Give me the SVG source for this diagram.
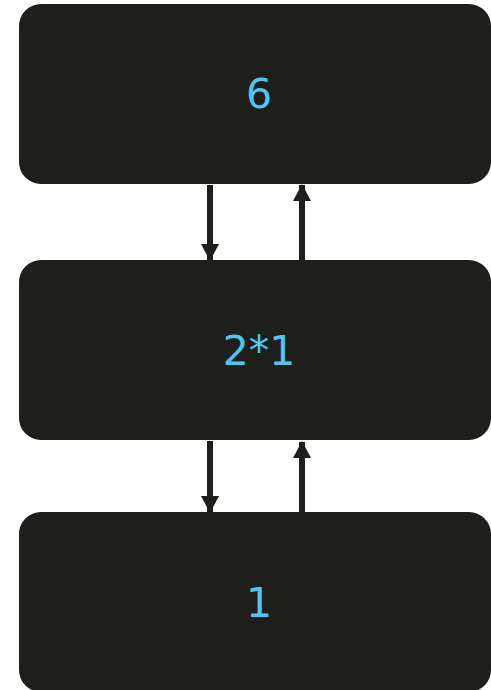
<svg xmlns="http://www.w3.org/2000/svg" width="491" height="690" viewBox="0 0 491 690">
<style>
.box{fill:#1e1f1b}
.lbl{font-family:"DejaVu Sans",sans-serif;font-size:41px;fill:#4fc6f2;text-anchor:middle}
.ar{stroke:#1e1f1b;stroke-width:6;fill:none}
</style>
<defs>
<marker id="ah" markerWidth="17" markerHeight="18" refX="16" refY="9" orient="auto" markerUnits="userSpaceOnUse" viewBox="0 0 17 18">
<path d="M0,0 L17,9 L0,18 Z" fill="#1e1f1b"/>
</marker>
</defs>
<rect width="491" height="690" fill="#ffffff"/>
<g id="node-6">
<rect class="box" x="19" y="4" width="472" height="180" rx="22"/>
<text class="lbl" x="259" y="108">6</text>
</g>
<g id="node-2x1">
<rect class="box" x="19" y="260" width="472" height="180" rx="22"/>
<text class="lbl" x="259" y="365">2*1</text>
</g>
<g id="node-1">
<rect class="box" x="19" y="512" width="472" height="180" rx="22"/>
<text class="lbl" x="259" y="617">1</text>
</g>
<g id="connectors">
<line class="ar" x1="210" y1="185" x2="210" y2="260" marker-end="url(#ah)"/>
<line class="ar" x1="302" y1="260" x2="302" y2="185" marker-end="url(#ah)"/>
<line class="ar" x1="210" y1="441" x2="210" y2="512" marker-end="url(#ah)"/>
<line class="ar" x1="302" y1="512" x2="302" y2="442" marker-end="url(#ah)"/>
</g>
</svg>
